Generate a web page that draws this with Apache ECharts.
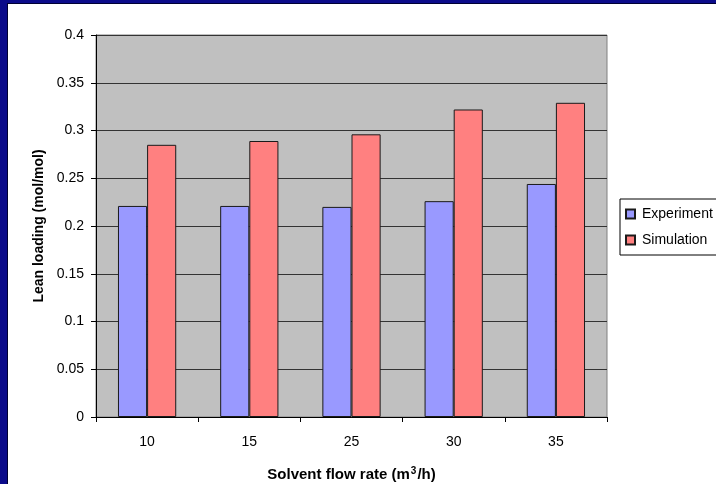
<!DOCTYPE html>
<html>
<head>
<meta charset="utf-8">
<script src="https://cdn.jsdelivr.net/npm/echarts@6/dist/echarts.min.js"></script>
<style>
  html, body { margin: 0; padding: 0; background: #0b0b8a; }
  #frame { position: absolute; left: 7px; top: 3px; width: 709px; height: 481px; background: #ffffff; border-left: 1px solid #000033; border-top: 1px solid #000033; box-sizing: border-box; }
  #chart { position: absolute; left: 0; top: 0; width: 716px; height: 484px; }
</style>
</head>
<body>
<div id="frame"></div>
<div id="chart"></div>
<script>
// Solvent flow rates (m3/h) and lean loading results (mol/mol)
const flowRates = ['10', '15', '25', '30', '35'];
const experiment = [0.221, 0.221, 0.22, 0.226, 0.244];
const simulation = [0.285, 0.289, 0.296, 0.322, 0.329];
const yTicks = { min: 0, max: 0.4, step: 0.05 };

const chart = echarts.init(document.getElementById('chart'), null, { renderer: 'canvas' });

const font = 'Arial, "Liberation Sans", sans-serif';

chart.setOption({
  animation: false,
  backgroundColor: 'transparent',
  textStyle: { fontFamily: font },
  grid: {
    left: 96, right: 109, top: 35, bottom: 67,
    containLabel: false, outerBoundsMode: 'none',
    show: true, backgroundColor: '#c0c0c0', borderColor: '#808080', borderWidth: 1
  },
  legend: {
    orient: 'vertical',
    left: 620, top: 199,
    data: ['Experiment', 'Simulation'],
    itemWidth: 9, itemHeight: 9, itemGap: 12,
    icon: 'rect',
    padding: [8, 40, 8, 5],
    borderColor: '#000000', borderWidth: 1,
    backgroundColor: '#ffffff',
    textStyle: { fontSize: 14, color: '#000000', fontFamily: font, padding: [0, 0, 0, 2] }
  },
  xAxis: {
    type: 'category',
    data: flowRates,
    name: 'Solvent flow rate (m{sup|3}/h)',
    nameLocation: 'middle',
    nameGap: 49,
    nameTextStyle: {
      fontSize: 15, fontWeight: 'bold', color: '#000000', fontFamily: font,
      rich: { sup: { fontSize: 10, fontWeight: 'bold', verticalAlign: 'top', padding: [0, 1, 8, 1] } }
    },
    axisLine: { lineStyle: { color: '#000000', width: 1 } },
    axisTick: { show: true, length: 5, alignWithLabel: false, lineStyle: { color: '#000000' } },
    axisLabel: { fontSize: 14, color: '#000000', margin: 18 },
    splitLine: { show: false }
  },
  yAxis: {
    type: 'value',
    min: yTicks.min, max: yTicks.max, interval: yTicks.step,
    name: 'Lean loading (mol/mol)',
    nameLocation: 'middle',
    nameGap: 48,
    nameTextStyle: { fontSize: 14, fontWeight: 'bold', color: '#000000', fontFamily: font },
    axisLine: { show: true, lineStyle: { color: '#000000', width: 1 } },
    axisTick: { show: true, length: 5, lineStyle: { color: '#000000' } },
    axisLabel: {
      fontSize: 14, color: '#000000', margin: 12,
      formatter: v => String(parseFloat(v.toFixed(2)))
    },
    splitLine: { show: true, lineStyle: { color: '#333333', width: 1 } }
  },
  series: [
    {
      name: 'Experiment', type: 'bar', data: experiment,
      barGap: '0%', barCategoryGap: '43%',
      itemStyle: { color: '#9999ff', borderColor: '#1a1a1a', borderWidth: 1 }
    },
    {
      name: 'Simulation', type: 'bar', data: simulation,
      barGap: '0%', barCategoryGap: '43%',
      itemStyle: { color: '#ff8080', borderColor: '#1a1a1a', borderWidth: 1 }
    }
  ]
});
</script>
</body>
</html>
